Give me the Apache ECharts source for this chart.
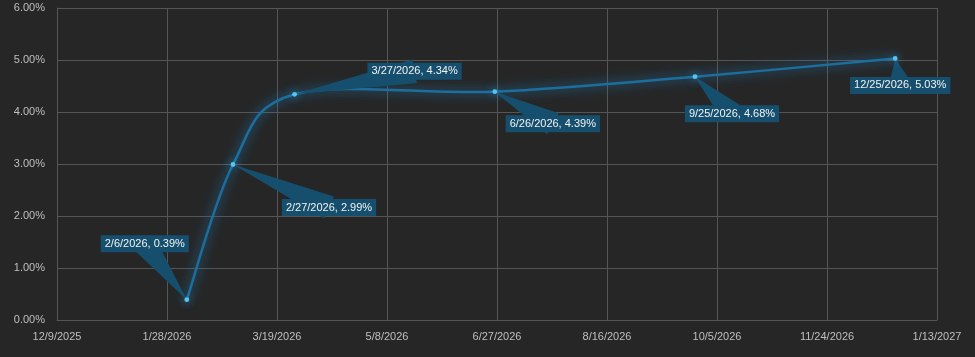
<!DOCTYPE html>
<html>
<head>
<meta charset="utf-8">
<script src="https://cdn.jsdelivr.net/npm/echarts@6/dist/echarts.min.js"></script>
<style>
html,body{margin:0;padding:0;background:#262626;}
#c{width:975px;height:357px;}
</style>
</head>
<body>
<div id="c"></div>
<script>
// ---- data ----
var startDate = [2025, 12, 9];            // x-axis origin (M/D/YYYY = 12/9/2025)
var dates = ['2/6/2026', '2/27/2026', '3/27/2026', '6/26/2026', '9/25/2026', '12/25/2026'];
var rates = [0.39, 2.99, 4.34, 4.39, 4.68, 5.03];   // percent
var xTickStepDays = 50;
var xMaxDays = 400;
var yTicks = [0, 1, 2, 3, 4, 5, 6];

// ---- label layout (pixel offsets of callout boxes, styling only) ----
var labelOffsets = [[-42, -56], [96, 43], [120, -23], [58, 32], [37, 37], [5, 27]];

var DAY = 86400000;
var origin = Date.UTC(startDate[0], startDate[1] - 1, startDate[2]);
function toDays(s) {
  var p = s.split('/');
  return Math.round((Date.UTC(+p[2], +p[0] - 1, +p[1]) - origin) / DAY);
}
function fmtDay(d) {
  var t = new Date(origin + d * DAY);
  return (t.getUTCMonth() + 1) + '/' + t.getUTCDate() + '/' + t.getUTCFullYear();
}
var lineData = dates.map(function (d, i) { return [toDays(d), rates[i], i]; });

var chart = echarts.init(document.getElementById('c'));
var FONT = 'Liberation Sans, Arial, sans-serif';
var gridColor = '#555555';

// Excel-like smoothed segment (Catmull-Rom, tension 1/6) between point i and i+1
function renderSegment(params, api) {
  var i = api.value(2);
  if (i >= lineData.length - 1) return null;
  var n = lineData.length;
  function P(k) {
    k = Math.max(0, Math.min(n - 1, k));
    return api.coord([lineData[k][0], lineData[k][1]]);
  }
  var p0 = P(i - 1), p1 = P(i), p2 = P(i + 1), p3 = P(i + 2);
  var c1 = [p1[0] + (p2[0] - p0[0]) / 6, p1[1] + (p2[1] - p0[1]) / 6];
  var c2 = [p2[0] - (p3[0] - p1[0]) / 6, p2[1] - (p3[1] - p1[1]) / 6];
  return {
    type: 'bezierCurve',
    shape: { x1: p1[0], y1: p1[1], x2: p2[0], y2: p2[1], cpx1: c1[0], cpy1: c1[1], cpx2: c2[0], cpy2: c2[1] },
    style: { stroke: '#1c6e9e', lineWidth: 2.5, fill: null, shadowBlur: 12, shadowColor: 'rgba(30,150,225,0.9)' }
  };
}

chart.setOption({
  backgroundColor: '#262626',
  animation: false,
  grid: { left: 57, right: 38, top: 8, bottom: 37, containLabel: false },
  xAxis: {
    type: 'value',
    min: 0, max: xMaxDays, interval: xTickStepDays,
    axisLine: { show: true, lineStyle: { color: gridColor, width: 1 } },
    axisTick: { show: false },
    splitLine: { show: true, lineStyle: { color: gridColor, width: 1 } },
    axisLabel: {
      color: '#bfbfbf', fontFamily: FONT, fontSize: 11, margin: 11,
      formatter: function (v) { return fmtDay(v); }
    }
  },
  yAxis: {
    type: 'value',
    min: yTicks[0], max: yTicks[yTicks.length - 1], interval: 1,
    axisLine: { show: true, lineStyle: { color: gridColor, width: 1 } },
    axisTick: { show: false },
    splitLine: { show: true, lineStyle: { color: gridColor, width: 1 } },
    axisLabel: {
      color: '#bfbfbf', fontFamily: FONT, fontSize: 11, margin: 12,
      formatter: function (v) { return v.toFixed(2) + '%'; }
    }
  },
  series: [
    {
      type: 'custom',
      coordinateSystem: 'cartesian2d',
      encode: { x: 0, y: 1 },
      data: lineData,
      z: 3,
      renderItem: renderSegment
    },
    {
      type: 'custom',
      coordinateSystem: 'cartesian2d',
      encode: { x: 0, y: 1 },
      data: lineData,
      z: 4,
      renderItem: function (params, api) {
        var i = api.value(2);
        var pt = api.coord([api.value(0), api.value(1)]);
        var off = labelOffsets[i];
        var cx = pt[0] + off[0], cy = pt[1] + off[1];
        var dx = pt[0] - cx, dy = pt[1] - cy;
        var len = Math.sqrt(dx * dx + dy * dy) || 1;
        var nx = -dy / len, ny = dx / len;
        var hw = 12;
        var text = dates[i] + ', ' + rates[i].toFixed(2) + '%';
        return {
          type: 'group',
          children: [
            {
              type: 'polygon',
              shape: { points: [[pt[0], pt[1]], [cx + nx * hw, cy + ny * hw], [cx - nx * hw, cy - ny * hw]] },
              style: { fill: '#164f6e' }
            },
            {
              type: 'text',
              x: cx, y: cy,
              style: {
                text: text,
                fill: '#f2f2f2',
                font: '11px ' + FONT,
                align: 'center',
                verticalAlign: 'middle',
                backgroundColor: '#164f6e',
                padding: [3, 4, 3, 4]
              }
            },
            {
              type: 'circle',
              shape: { cx: pt[0], cy: pt[1], r: 2.4 },
              style: { fill: '#55c4f2', shadowBlur: 8, shadowColor: 'rgba(60,180,240,0.9)' }
            }
          ]
        };
      }
    }
  ]
});
</script>
</body>
</html>
